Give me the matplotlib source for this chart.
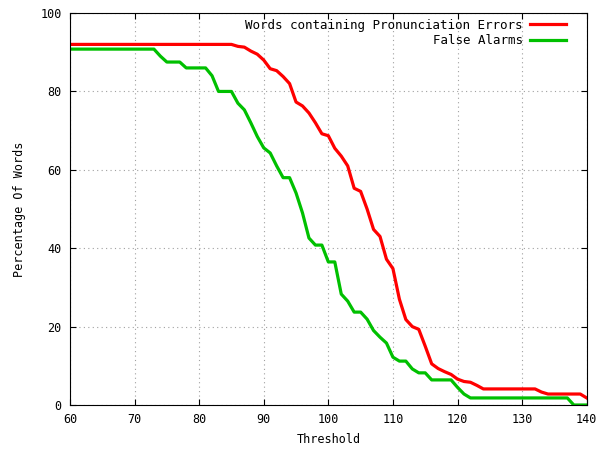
import matplotlib
matplotlib.use("Agg")
import matplotlib.pyplot as plt
import numpy as np

# data
threshold = list(range(60, 141))

pron_errors = [92.0] * 26 + [
    91.5, 91.3, 90.3, 89.5, 88.0, 85.8, 85.3, 83.8, 82.0, 77.3,   # 86-95
    76.3, 74.5, 72.0, 69.2, 68.7, 65.5, 63.5, 61.0, 55.3, 54.5,   # 96-105
    50.0, 44.8, 43.0, 37.2, 34.8, 27.0, 21.8, 20.0, 19.3, 15.0,   # 106-115
    10.5, 9.3, 8.5, 7.8, 6.6, 6.0, 5.8, 5.0, 4.1, 4.1,            # 116-125
    4.1, 4.1, 4.1, 4.1, 4.1, 4.1, 4.1, 3.3, 2.8, 2.8,             # 126-135
    2.8, 2.8, 2.8, 2.8, 1.8,                                      # 136-140
]

false_alarms = [90.8] * 14 + [
    89.0, 87.5, 87.5, 87.5, 86.0, 86.0, 86.0, 86.0, 84.0, 80.0,   # 74-83
    80.0, 80.0, 77.0, 75.3, 72.0, 68.5, 65.6, 64.3, 61.0, 58.0,   # 84-93
    58.0, 54.1, 49.0, 42.6, 40.8, 40.8, 36.5, 36.5, 28.3, 26.5,   # 94-103
    23.7, 23.7, 21.9, 19.0, 17.3, 15.8, 12.2, 11.2, 11.2, 9.2,    # 104-113
    8.2, 8.2, 6.4, 6.4, 6.4, 6.4, 4.5, 2.8, 1.8, 1.8,             # 114-123
    1.8, 1.8, 1.8, 1.8, 1.8, 1.8, 1.8, 1.8, 1.8, 1.8,             # 124-133
    1.8, 1.8, 1.8, 1.8, 0.0, 0.0, 0.0,                            # 134-140
]

plt.rcParams["font.family"] = "DejaVu Sans Mono"
plt.rcParams["font.size"] = 8.5

fig = plt.figure(figsize=(6.03, 4.5), dpi=100)
ax = fig.add_axes([0.116, 0.1, 0.857, 0.871])

ax.plot(threshold, pron_errors, color="#ff0000", lw=2.3,
        label="Words containing Pronunciation Errors")
ax.plot(threshold, false_alarms, color="#00c000", lw=2.3,
        label="False Alarms")

ax.set_xlim(60, 140)
ax.set_ylim(0, 100)
ax.set_xticks(range(60, 141, 10))
ax.set_yticks(range(0, 101, 20))
ax.grid(True, color="#a0a0a0", linestyle=(0, (1, 3)), lw=0.8)
ax.tick_params(direction="in", top=True, right=True, length=4, pad=6)
for s in ax.spines.values():
    s.set_linewidth(0.8)

ax.set_xlabel("Threshold", labelpad=5)
ax.set_ylabel("Percentage Of Words", labelpad=10)

ax.legend(loc="upper right", bbox_to_anchor=(0.975, 1.005), frameon=False,
          markerfirst=False, fontsize=9, handlelength=2.9, handletextpad=0.6,
          labelspacing=0.2, borderaxespad=0.2, alignment="right")
leg = ax.get_legend()
for t in leg.get_texts():
    t.set_ha("right")

fig.savefig("out.png", dpi=100)
